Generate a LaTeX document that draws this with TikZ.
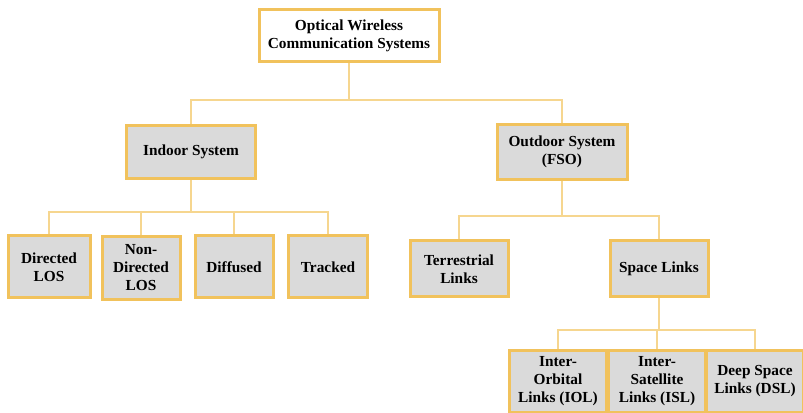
\documentclass[tikz,border=0pt]{standalone}
\usepackage{fontspec}
\setmainfont{Liberation Serif}

\tikzset{every picture/.style={line width=0.75pt}}
\tikzset{
  boxnode/.style={draw={rgb, 255:red, 241; green, 194; blue, 92}, line width=2.25pt,
    fill={rgb, 255:red, 218; green, 218; blue, 218}, align=center, inner sep=0.75pt,
    font=\bfseries\fontsize{11.5}{13.5}\selectfont},
  smallbox/.style={boxnode, minimum width=60pt, minimum height=46.5pt},
  linkbox/.style={boxnode, minimum width=72.75pt, minimum height=46.5pt},
  linkline/.style={draw={rgb, 255:red, 246; green, 214; blue, 143}, line width=1.5pt}
}

\begin{document}
\begin{tikzpicture}[x=0.75pt,y=0.75pt,yscale=-1,xscale=1]
\useasboundingbox (0,0) rectangle (803,413);

% Text Node
\draw (349,36) node [boxnode, fill=white, minimum width=135pt, minimum height=39pt] (root) {Optical Wireless\\Communication Systems};
% Text Node
\draw (191,152) node [boxnode, minimum width=96.75pt, minimum height=39.75pt] (indoor) {Indoor System};
% Text Node
\draw (562,152) node [boxnode, minimum width=97.5pt, minimum height=41.25pt] (outdoor) {Outdoor System\\(FSO)};
% Text Node
\draw (49,267) node [smallbox, minimum width=61.5pt] (dlos) {Directed\\LOS};
% Text Node
\draw (141,268) node [smallbox, minimum width=58.5pt, minimum height=47.25pt] (ndlos) {Non-\\Directed\\LOS};
% Text Node
\draw (234,267) node [smallbox, minimum width=58.5pt] (diffused) {Diffused};
% Text Node
\draw (328,267) node [smallbox, minimum width=59.25pt] (tracked) {Tracked};
% Text Node
\draw (459,269) node [boxnode, minimum width=73.5pt, minimum height=42pt] (terr) {Terrestrial\\Links};
% Text Node
\draw (659,269) node [boxnode, minimum width=73.5pt, minimum height=42pt] (space) {Space Links};
% Text Node
\draw (558,381) node [linkbox] (iol) {Inter-\\Orbital\\Links (IOL)};
% Text Node
\draw (657,381) node [linkbox] (isl) {Inter-\\Satellite\\Links (ISL)};
% Text Node
\draw (755,381) node [linkbox] (dsl) {Deep Space\\Links (DSL)};

% Bus Points
\coordinate (rootbus) at (349,100);
\coordinate (indoorbus) at (191,212);
\coordinate (outdoorbus) at (562,216);
\coordinate (spacebus) at (659,330);

%Straight Lines
\draw [linkline] (root.south) -- (rootbus) -| (indoor.north);
\draw [linkline] (rootbus) -| (outdoor.north);
%Straight Lines
\draw [linkline] (indoor.south) -- (indoorbus);
\foreach \n in {dlos,ndlos,diffused,tracked}
  \draw [linkline] (indoorbus) -| (\n.north);
%Straight Lines
\draw [linkline] (outdoor.south) -- (outdoorbus);
\foreach \n in {terr,space}
  \draw [linkline] (outdoorbus) -| (\n.north);
%Straight Lines
\draw [linkline] (space.south) -- (spacebus);
\foreach \n in {iol,isl,dsl}
  \draw [linkline] (spacebus) -| (\n.north);

\end{tikzpicture}
\end{document}
